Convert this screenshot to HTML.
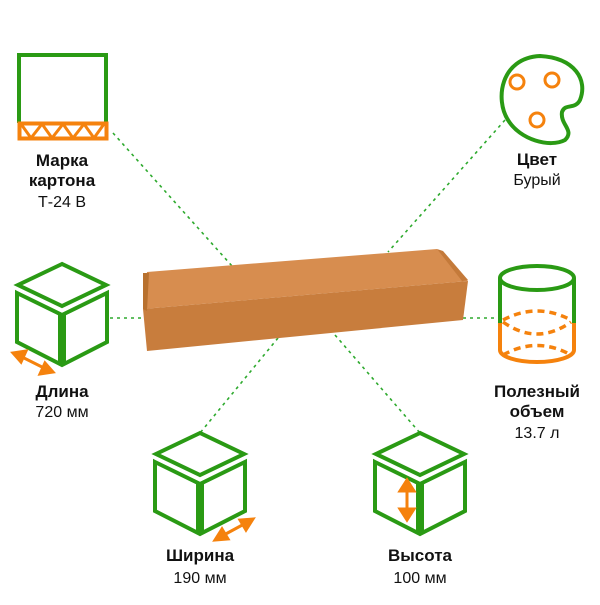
<!DOCTYPE html>
<html><head><meta charset="utf-8"><style>
body{margin:0;background:#fff;width:600px;height:600px;overflow:hidden}
text{font-family:"Liberation Sans",sans-serif;fill:#111;text-anchor:middle}
.b{font-weight:bold;font-size:17px}.r{font-size:16px}
</style></head><body>
<svg width="600" height="600" viewBox="0 0 600 600">
<defs>
<g id="cube" fill="none" stroke="#2a9a14" stroke-width="4" stroke-linejoin="miter">
<polygon points="0,0 -44,21 0,42 44,21"/>
<polygon points="-45,29 -2,50 -2,100 -45,78"/>
<polygon points="2,50 45,29 45,78 2,100"/>
</g>
</defs>
<g stroke="#2eaa2e" stroke-width="1.6" stroke-dasharray="3,4" fill="none">
<line x1="113" y1="133" x2="232" y2="266"/>
<line x1="505" y1="120" x2="388" y2="252"/>
<line x1="110" y1="318" x2="143" y2="318"/>
<line x1="463" y1="318" x2="497" y2="318"/>
<line x1="278" y1="338" x2="200" y2="433"/>
<line x1="335" y1="335" x2="420" y2="433"/>
</g>
<!-- box -->
<polygon points="147,272 437,249 468,281 143,309" fill="#d78d4f"/>
<polygon points="143,309 468,281 463,320 147,351" fill="#c87d3d"/>
<polygon points="143,273 149,273 147,311 143,309" fill="#b8712f"/>
<polygon points="437,249 443,251 468,280 462,281" fill="#c47a3a"/>
<!-- Марка -->
<polyline points="19,123 19,55 106,55 106,123" fill="none" stroke="#2a9a14" stroke-width="4"/>
<rect x="19.5" y="123.5" width="87" height="15" fill="none" stroke="#f5820d" stroke-width="4"/>
<polyline points="21,124 31,138 42,124 52,138 63,124 73,138 84,124 94,138 104,124" fill="none" stroke="#f5820d" stroke-width="3"/>
<text x="62" y="166" class="b">Марка</text>
<text x="62" y="186" class="b">картона</text>
<text x="62" y="207" class="r">Т-24 В</text>
<!-- palette -->
<path d="M540,56 C575,58 588,80 580,100 C575,110 565,103 562,112 C560,125 575,130 565,140 C550,148 520,140 508,120 C495,100 500,58 540,56 Z" fill="none" stroke="#2a9a14" stroke-width="4"/>
<circle cx="517" cy="82" r="7" fill="none" stroke="#f5820d" stroke-width="3"/>
<circle cx="552" cy="80" r="7" fill="none" stroke="#f5820d" stroke-width="3"/>
<circle cx="537" cy="120" r="7" fill="none" stroke="#f5820d" stroke-width="3"/>
<text x="537" y="165" class="b">Цвет</text>
<text x="537" y="185" class="r">Бурый</text>
<!-- cylinder -->
<ellipse cx="537" cy="278" rx="37" ry="12" fill="none" stroke="#2a9a14" stroke-width="4"/>
<line x1="500" y1="278" x2="500" y2="323" stroke="#2a9a14" stroke-width="4"/>
<line x1="574" y1="278" x2="574" y2="323" stroke="#2a9a14" stroke-width="4"/>
<path d="M500,323 L500,350 A37,12 0 0 0 574,350 L574,323" fill="none" stroke="#f5820d" stroke-width="4"/>
<g fill="none" stroke="#f5820d" stroke-width="3.5" stroke-dasharray="7,5">
<path d="M503,320 Q537,302 571,320"/>
<path d="M503,322 Q537,346 571,322"/>
<path d="M503,355 Q537,336 571,355"/>
</g>
<text x="537" y="397" class="b">Полезный</text>
<text x="537" y="417" class="b">объем</text>
<text x="537" y="438" class="r">13.7 л</text>
<!-- cubes -->
<use href="#cube" x="62" y="264"/>
<g stroke="#f5820d" stroke-width="3" fill="#f5820d">
<line x1="20" y1="356" x2="46" y2="369"/>
<polygon points="13,353 26,351 21,362"/><polygon points="53,372 40,374 45,363"/>
</g>
<text x="62" y="397" class="b">Длина</text>
<text x="62" y="417" class="r">720 мм</text>
<use href="#cube" x="200" y="433"/>
<g stroke="#f5820d" stroke-width="3" fill="#f5820d">
<line x1="222" y1="536" x2="246" y2="523"/>
<polygon points="215,540 222,529 228,539"/><polygon points="253,519 246,530 240,520"/>
</g>
<text x="200" y="561" class="b">Ширина</text>
<text x="200" y="583" class="r">190 мм</text>
<use href="#cube" x="420" y="433"/>
<g stroke="#f5820d" stroke-width="3" fill="#f5820d">
<line x1="407" y1="488" x2="407" y2="512"/>
<polygon points="407,480 400,491 414,491"/><polygon points="407,520 400,509 414,509"/>
</g>
<text x="420" y="561" class="b">Высота</text>
<text x="420" y="583" class="r">100 мм</text>
</svg>
</body></html>
